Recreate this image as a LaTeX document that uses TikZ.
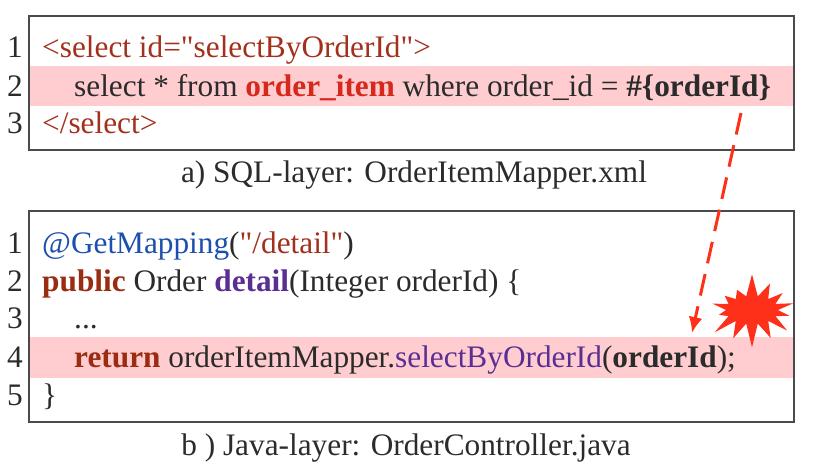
\documentclass[tikz,border=0pt]{standalone}
\usepackage{fontspec}
\setmainfont{Liberation Serif}[Ligatures=TeXOff]
\usetikzlibrary{arrows.meta,shapes.symbols}
\definecolor{codetext}{HTML}{2B2B2B}
\definecolor{tagred}{HTML}{A3301C}
\definecolor{keyred}{HTML}{9A2C12}
\definecolor{tablered}{HTML}{D7281E}
\definecolor{annoblue}{HTML}{1C4FAE}
\definecolor{methpurple}{HTML}{5A2E93}
\definecolor{hlpink}{HTML}{FFCDD0}
\definecolor{framegray}{HTML}{4A4A4A}
\definecolor{burstred}{HTML}{FF3019}
\newcommand{\codefont}{\fontsize{31.3}{36}\selectfont}

\begin{document}
\begin{tikzpicture}[x=1pt,y=-1pt,
  code/.style={anchor=base west,inner sep=0pt,font=\codefont,text=codetext},
  lineno/.style={anchor=base east,inner sep=0pt,font=\codefont,text=codetext},
  caption/.style={anchor=base,inner sep=0pt,font=\codefont,text=codetext},
  frame/.style={draw=framegray,line width=1.5pt},
  hlrow/.style={fill=hlpink},
  flow/.style={draw=burstred,line width=3pt,dash pattern=on 22pt off 11pt,
    -{Latex[length=16pt,width=14pt]}},
  burst/.style={shape=starburst,fill=burstred,draw=none,minimum width=100pt,
    minimum height=76pt,starburst points=14,starburst point height=24pt,
    random starburst=7}]
  \useasboundingbox (0,0) rectangle (814,472);
  % Highlighted rows
  \fill[hlrow] (30,66) rectangle (793,106);
  \fill[hlrow] (30,337) rectangle (793,378);
  % Boxes
  \draw[frame] (29,16) rectangle (794,150);
  \draw[frame] (29,211) rectangle (794,422);
  % Line numbers
  \foreach \n/\y in {1/57,2/96,3/133}
    \node[lineno] (sqlno\n) at (23,\y) {\n};
  \foreach \n/\y in {1/253,2/291,3/328,4/367,5/405}
    \node[lineno] (javano\n) at (23,\y) {\n};
  % SQL-layer
  \node[code] (sql1) at (42,57) {\textcolor{tagred}{<select id="selectByOrderId">}};
  \node[code] (sql2) at (74,96) {select * from \textcolor{tablered}{\textbf{order\_item}} where order\_id = \textbf{\#\{orderId\}}};
  \node[code] (sql3) at (42,133) {\textcolor{tagred}{</select>}};
  % Java-layer
  \node[code] (java1) at (42,253) {\textcolor{annoblue}{@GetMapping}(\textcolor{tagred}{"/detail"})};
  \node[code] (java2) at (42,291) {\textcolor{keyred}{\textbf{public}} Order \textcolor{methpurple}{\textbf{detail}}(Integer orderId) \{};
  \node[code] (java3) at (74,328) {...};
  \node[code] (java4) at (74,367) {\textcolor{keyred}{\textbf{return}} orderItemMapper.\textcolor{methpurple}{selectByOrderId}(\textbf{orderId});};
  \node[code] (java5) at (42,405) {\}};
  % Labels
  \node[caption] (sqlcap) at (414,182) {a) SQL-layer: OrderItemMapper.xml};
  \node[caption] (javacap) at (406,455) {b ) Java-layer: OrderController.java};
  % Link
  \coordinate (sqlarg) at (741,113);
  \coordinate (javaarg) at (692,333);
  \draw[flow] (sqlarg) -- (javaarg);
  \node[burst] (burst) at (752,310) {};
\end{tikzpicture}
\end{document}
